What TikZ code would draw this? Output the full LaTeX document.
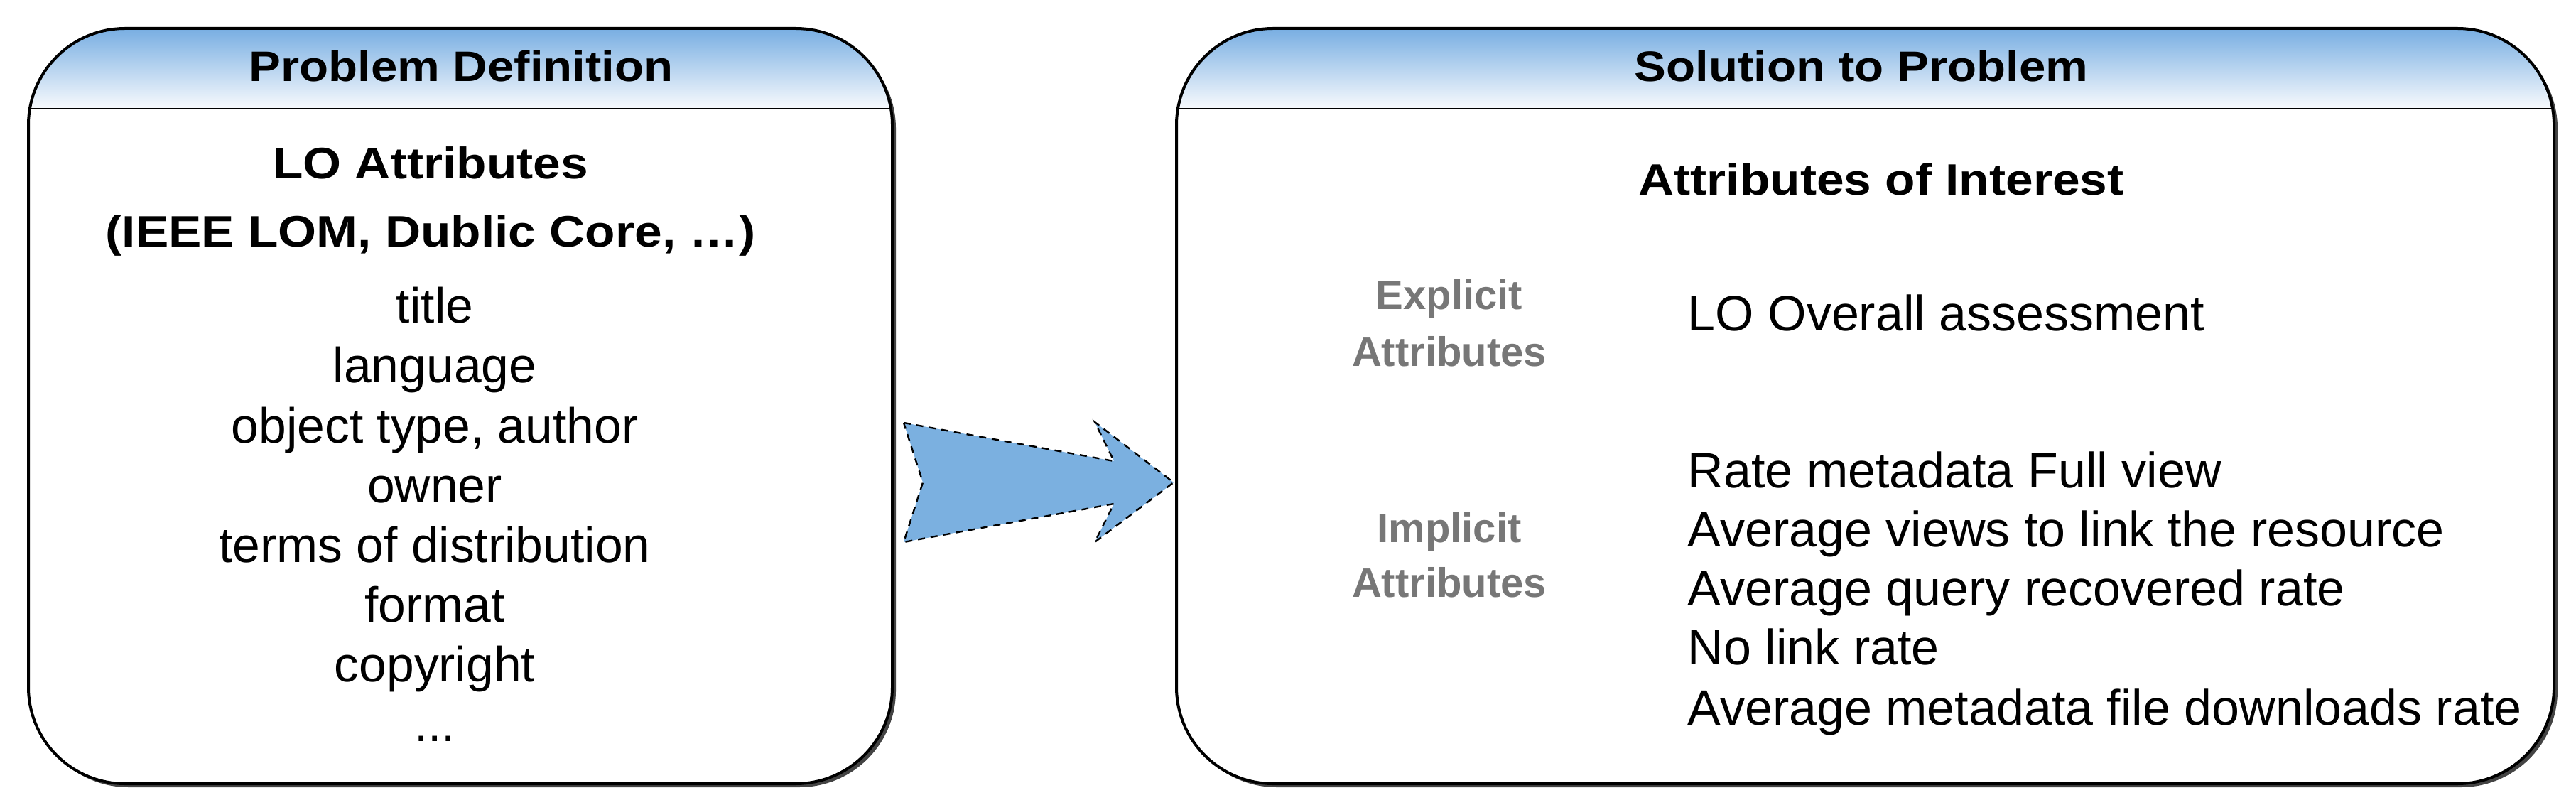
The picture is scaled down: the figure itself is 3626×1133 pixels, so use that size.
\documentclass[tikz,border=0pt]{standalone}
\usepackage{fontspec}
\setmainfont{Liberation Sans}
\newfontfamily\widesans{Liberation Sans}[FakeStretch=1.12]
\definecolor{hdrtop}{HTML}{78AEE2}
\definecolor{hdrbot}{HTML}{F8FAFD}
\definecolor{arrowblue}{HTML}{7BB0E0}
\definecolor{labgray}{HTML}{777777}
\definecolor{shadowgray}{HTML}{444444}
\tikzset{
  boxline/.style={line width=1pt, draw=black},
  hdrtxt/.style={font=\widesans\bfseries\fontsize{15}{18}\selectfont, anchor=base, inner sep=0pt},
  ttl/.style={font=\widesans\bfseries\fontsize{15.5}{18}\selectfont, anchor=base, inner sep=0pt},
  item/.style={font=\fontsize{17.4}{20}\selectfont, anchor=base, inner sep=0pt},
  ritem/.style={font=\fontsize{17.5}{20}\selectfont, anchor=base west, inner sep=0pt},
  glab/.style={font=\fontsize{14.5}{17}\selectfont\bfseries, text=labgray, anchor=base, inner sep=0pt}
}
\begin{document}
\begin{tikzpicture}[x=0.25pt,y=-0.25pt]
\useasboundingbox (0,0) rectangle (3626,1133);
% ---------- left box ----------
\fill[shadowgray, rounded corners=34pt] (45,45) rectangle (1261,1108);
\fill[white, rounded corners=34pt] (40,40) rectangle (1256,1103);
\shade[top color=hdrtop, bottom color=hdrbot]
  (40,153) [rounded corners=34pt] -- (40,40) -- (1256,40) [sharp corners] -- (1256,153) -- cycle;
\draw[boxline, rounded corners=34pt] (40,40) rectangle (1256,1103);
\draw[line width=0.6pt] (40,153) -- (1256,153);
% ---------- right box ----------
\fill[shadowgray, rounded corners=34pt] (1661,45) rectangle (3600,1108);
\fill[white, rounded corners=34pt] (1656,40) rectangle (3595,1103);
\shade[top color=hdrtop, bottom color=hdrbot]
  (1656,153) [rounded corners=34pt] -- (1656,40) -- (3595,40) [sharp corners] -- (3595,153) -- cycle;
\draw[boxline, rounded corners=34pt] (1656,40) rectangle (3595,1103);
\draw[line width=0.6pt] (1656,153) -- (3595,153);
% ---------- arrow ----------
\draw[fill=arrowblue, dash pattern=on 2.5pt off 2pt, line width=0.6pt]
  (1272,595) -- (1568,649) -- (1541,594) -- (1652,679) -- (1541,763)
  -- (1568,709) -- (1272,763) -- (1299,679) -- cycle;
% ---------- left texts ----------
\node[hdrtxt] (h1) at (649,115) {Problem Definition};
\node[ttl] (lo1) at (606,252) {LO Attributes};
\node[ttl] (lo2) at (606,348) {(IEEE LOM, Dublic Core, …)};
\node[item] (i1) at (612,455) {title};
\node[item] (i2) at (612,539) {language};
\node[item] (i3) at (612,623) {object type, author};
\node[item] (i4) at (612,707) {owner};
\node[item] (i5) at (612,791) {terms of distribution};
\node[item] (i6) at (612,875) {format};
\node[item] (i7) at (612,959) {copyright};
\node[item] (i8) at (612,1043) {...};
% ---------- right texts ----------
\node[hdrtxt] (h2) at (2620,115) {Solution to Problem};
\node[ttl] (aoi) at (2648,275) {Attributes of Interest};
\node[glab] (ex1) at (2040,436) {Explicit};
\node[glab] (ex2) at (2040,515) {Attributes};
\node[glab] (im1) at (2040,763) {Implicit};
\node[glab] (im2) at (2040,840) {Attributes};
\node[ritem] (r0) at (2375,466) {LO Overall assessment};
\node[ritem] (r1) at (2375,686) {Rate metadata Full view};
\node[ritem] (r2) at (2375,769) {Average views to link the resource};
\node[ritem] (r3) at (2375,852) {Average query recovered rate};
\node[ritem] (r4) at (2375,935) {No link rate};
\node[ritem] (r5) at (2375,1020) {Average metadata file downloads rate};
\end{tikzpicture}
\end{document}
